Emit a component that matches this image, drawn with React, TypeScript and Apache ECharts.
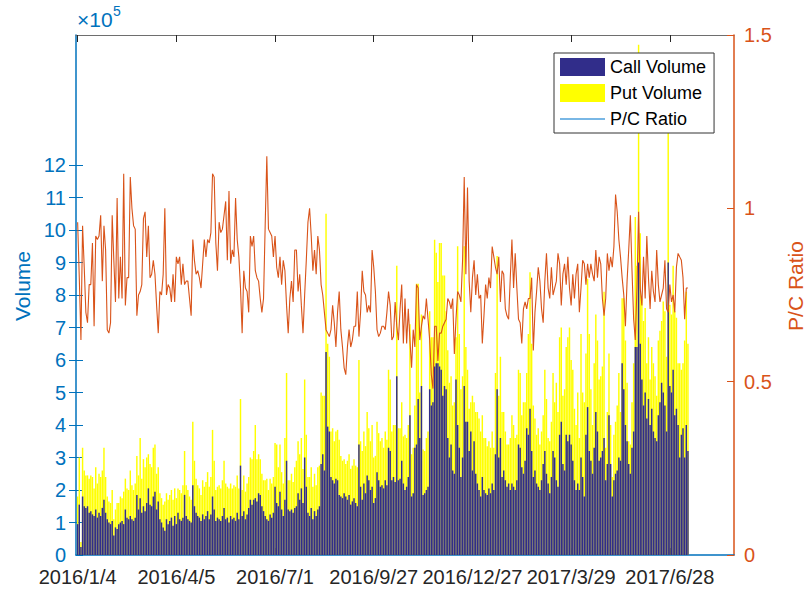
import React, { useEffect, useRef } from "react";
import * as echarts from "echarts";

// x tick positions (trading-day index) and their date labels
const tickIndex = [1, 61, 121, 181, 241, 301, 361];
const tickLabels = ["2016/1/4", "2016/4/5", "2016/7/1", "2016/9/27", "2016/12/27", "2017/3/29", "2017/6/28"];
const volumeTicks = [0, 1, 2, 3, 4, 5, 6, 7, 8, 9, 10, 11, 12];
const volumeMirrorTicks = [1, 2, 3, 4, 5, 6, 7, 8, 9, 10, 11, 12];

// daily call volume, in units of 10^5
const callVolume = [
  0.95, 1.55, 0.25, 1.80, 1.50, 1.45, 1.50, 1.30, 1.35, 1.25,
  1.20, 1.40, 1.15, 1.30, 1.20, 1.45, 1.70, 1.30, 1.10, 1.00,
  0.95, 1.05, 0.60, 0.85, 0.80, 0.95, 1.00, 1.05, 0.95, 1.40,
  1.15, 1.10, 1.20, 1.10, 1.05, 1.15, 1.85, 1.40, 1.75, 1.30,
  1.50, 1.35, 1.60, 2.05, 1.55, 1.50, 1.80, 1.95, 1.40, 1.65,
  1.10, 1.00, 0.85, 0.75, 1.10, 0.95, 1.05, 1.15, 0.90, 1.20,
  0.95, 1.30, 1.10, 1.05, 1.15, 1.85, 1.20, 1.10, 1.05, 1.00,
  2.15, 1.50, 1.30, 1.20, 1.15, 1.05, 1.25, 1.10, 1.20, 1.35,
  1.10, 1.25, 1.80, 1.40, 1.05, 1.15, 1.10, 1.05, 1.20, 1.45,
  1.10, 1.15, 1.00, 1.20, 1.10, 1.15, 1.05, 1.30, 1.10, 2.75,
  1.20, 1.35, 1.10, 1.25, 1.45, 1.70, 1.55, 1.70, 1.75, 1.65,
  1.90, 1.85, 1.50, 1.35, 1.20, 1.10, 1.05, 1.25, 1.15, 1.30,
  2.10, 1.60, 1.50, 1.95, 1.40, 1.20, 1.70, 2.90, 1.40, 1.35,
  1.40, 1.30, 1.45, 1.50, 1.90, 1.70, 2.05, 1.60, 3.00, 2.10,
  1.30, 1.20, 1.45, 1.10, 1.35, 1.20, 1.40, 1.50, 2.80, 3.10,
  2.60, 6.25, 3.95, 3.80, 2.40, 2.30, 2.20, 2.35, 2.30, 1.85,
  1.80, 1.75, 1.90, 1.80, 1.70, 1.85, 1.55, 1.65, 1.75, 1.60,
  1.50, 3.40, 2.10, 1.70, 2.20, 1.90, 2.45, 2.30, 2.00, 2.10,
  1.60, 1.75, 2.55, 2.30, 2.10, 2.15, 2.05, 2.30, 2.15, 3.30,
  3.20, 2.30, 2.40, 2.25, 5.50, 2.30, 2.35, 2.90, 2.20, 2.00,
  2.10, 2.40, 4.30, 1.80, 1.90, 3.30, 3.40, 4.80, 3.60, 5.20,
  1.85, 1.90, 2.00, 2.10, 5.10, 4.60, 4.70, 5.80, 5.90, 5.90,
  5.80, 5.70, 4.90, 5.20, 5.10, 3.60, 3.00, 3.40, 2.60, 2.50,
  5.40, 4.00, 3.30, 2.40, 3.00, 5.20, 4.10, 4.10, 3.20, 3.80,
  2.60, 3.50, 2.50, 2.20, 2.00, 1.80, 2.40, 2.00, 1.90, 1.85,
  2.05, 1.90, 2.20, 2.00, 3.10, 5.10, 3.00, 3.60, 2.40, 2.60,
  2.30, 2.10, 2.20, 2.00, 2.20, 2.10, 2.00, 2.30, 3.40, 3.30,
  2.70, 2.50, 2.90, 3.90, 3.70, 4.50, 3.20, 2.40, 2.60, 2.20,
  2.10, 2.00, 2.30, 2.80, 3.20, 2.50, 2.20, 1.90, 2.40, 3.20,
  3.00, 2.30, 2.10, 3.70, 4.10, 2.80, 2.60, 3.70, 3.50, 3.70,
  3.40, 2.90, 2.30, 2.00, 2.20, 2.00, 3.00, 2.40, 1.80, 3.70,
  4.55, 3.20, 2.90, 2.50, 3.30, 4.40, 3.80, 2.90, 3.00, 3.20,
  3.60, 2.30, 2.80, 4.30, 2.80, 1.80, 2.30, 2.50, 2.60, 3.00,
  2.90, 5.90, 5.10, 4.00, 3.50, 2.80, 2.50, 3.30, 3.80, 6.40,
  6.40, 9.00, 6.50, 5.40, 4.60, 5.00, 4.20, 4.80, 4.00, 4.50,
  3.80, 3.60, 3.50, 4.30, 4.70, 5.30, 5.00, 4.60, 3.80, 9.00,
  5.20, 5.00, 5.70, 4.30, 4.50, 4.00, 3.00, 3.70, 3.90, 3.00,
  4.00, 3.20,
];

// daily put volume, in units of 10^5 (stacked on top of the call volume)
const putVolume = [
  0.85, 1.45, 0.15, 1.50, 1.10, 1.00, 0.95, 1.05, 1.10, 1.15,
  0.85, 1.30, 1.05, 1.20, 1.20, 1.15, 1.60, 1.10, 0.70, 0.65,
  0.65, 0.95, 0.50, 0.55, 0.80, 0.65, 0.80, 0.70, 1.00, 0.95,
  0.90, 0.90, 1.40, 1.05, 0.95, 1.05, 1.20, 1.05, 1.85, 1.05,
  1.45, 1.35, 1.40, 1.05, 1.25, 1.20, 1.50, 1.45, 1.10, 1.05,
  0.80, 0.75, 0.70, 0.90, 0.80, 0.75, 0.80, 0.85, 0.80, 0.85,
  0.80, 0.75, 0.90, 0.85, 1.00, 1.35, 0.95, 0.90, 0.75, 0.70,
  1.95, 1.40, 1.05, 0.95, 0.90, 0.80, 1.05, 1.00, 1.05, 1.20,
  1.00, 1.15, 2.05, 1.50, 0.95, 0.95, 1.05, 1.00, 1.10, 1.45,
  1.10, 0.95, 1.05, 1.00, 0.95, 1.00, 1.05, 1.15, 0.95, 2.05,
  0.80, 1.10, 0.85, 0.95, 0.95, 1.30, 1.40, 1.50, 2.25, 1.30,
  1.20, 1.10, 1.00, 0.95, 1.10, 1.25, 0.95, 1.10, 1.05, 1.10,
  1.35, 1.80, 1.20, 1.45, 1.15, 1.00, 1.90, 2.70, 0.90, 0.95,
  1.10, 0.95, 1.25, 1.40, 1.60, 1.40, 1.55, 1.05, 2.40, 1.60,
  1.10, 1.20, 1.25, 1.00, 1.15, 0.95, 1.30, 1.25, 2.20, 1.80,
  2.30, 4.25, 2.55, 2.30, 1.40, 1.60, 1.30, 1.45, 1.55, 1.70,
  1.25, 1.15, 1.05, 1.00, 1.20, 1.25, 1.10, 1.10, 1.20, 1.15,
  1.20, 2.60, 1.40, 1.50, 1.60, 1.45, 1.95, 1.60, 1.50, 1.90,
  1.40, 1.30, 1.55, 1.45, 1.40, 1.45, 1.25, 1.50, 1.40, 2.40,
  2.20, 1.50, 1.60, 1.75, 3.40, 1.60, 1.55, 1.80, 1.45, 1.70,
  1.50, 1.60, 2.80, 1.30, 1.40, 1.30, 4.95, 3.55, 1.40, 2.20,
  1.40, 1.30, 1.60, 1.70, 2.40, 2.10, 2.00, 3.90, 3.40, 2.50,
  3.80, 3.90, 3.70, 3.40, 2.40, 2.70, 2.30, 2.10, 2.00, 2.20,
  1.30, 5.50, 3.50, 2.70, 2.50, 4.30, 2.30, 1.60, 1.30, 0.90,
  2.30, 1.20, 1.90, 2.20, 2.20, 2.00, 1.90, 1.60, 1.70, 1.50,
  1.45, 1.40, 1.60, 1.30, 2.50, 4.10, 1.90, 2.50, 2.00, 1.80,
  1.50, 1.30, 1.20, 1.60, 2.10, 1.90, 1.60, 1.40, 2.30, 2.30,
  1.60, 2.20, 1.80, 1.70, 3.10, 4.20, 3.30, 2.20, 1.60, 1.50,
  1.80, 1.40, 1.50, 1.50, 2.50, 2.30, 1.40, 1.60, 1.70, 2.40,
  1.70, 3.00, 2.30, 3.00, 2.90, 2.10, 2.50, 2.70, 3.20, 3.30,
  2.60, 2.80, 2.20, 2.00, 2.80, 1.60, 3.80, 2.60, 2.90, 2.50,
  3.95, 3.60, 2.20, 1.50, 2.60, 3.00, 2.80, 2.50, 2.50, 2.60,
  4.50, 1.00, 1.60, 1.90, 1.20, 0.60, 1.40, 1.60, 2.00, 2.60,
  1.50, 2.00, 2.80, 2.60, 1.80, 0.70, 0.90, 1.40, 2.10, 4.00,
  2.50, 6.70, 3.40, 2.50, 2.60, 2.60, 1.70, 1.90, 1.40, 1.90,
  2.10, 1.90, 1.40, 2.30, 2.20, 1.90, 2.80, 2.90, 2.30, 4.10,
  2.50, 2.40, 3.20, 3.20, 2.80, 1.90, 2.90, 2.00, 2.00, 3.60,
  4.10, 3.30,
];

// daily put/call ratio
const pcRatio = [
  0.96, 0.80, 0.62, 0.95, 0.83, 0.70, 0.67, 0.78, 0.78, 0.90,
  0.66, 0.92, 0.91, 0.92, 0.98, 0.79, 0.95, 0.88, 0.65, 0.64,
  0.67, 0.98, 0.85, 0.73, 1.03, 0.74, 0.86, 0.74, 1.10, 0.72,
  0.80, 0.80, 1.09, 1.00, 0.95, 0.94, 0.69, 0.75, 0.76, 0.78,
  0.97, 0.99, 0.86, 0.95, 0.80, 0.81, 0.85, 0.81, 0.72, 0.64,
  0.76, 0.75, 0.81, 1.00, 0.75, 0.78, 0.77, 0.73, 0.81, 0.73,
  0.86, 0.84, 0.86, 0.78, 0.84, 0.78, 0.79, 0.79, 0.74, 0.69,
  0.91, 0.85, 0.81, 0.82, 0.80, 0.77, 0.84, 0.91, 0.86, 0.91,
  0.90, 0.93, 1.10, 1.09, 0.90, 0.82, 0.96, 0.93, 0.94, 0.98,
  1.02, 0.85, 1.05, 0.84, 0.88, 0.86, 1.03, 0.91, 0.86, 0.77,
  0.64, 0.82, 0.77, 0.76, 0.70, 0.92, 0.89, 0.92, 0.82, 0.80,
  0.79, 0.74, 0.70, 0.74, 0.95, 1.15, 0.94, 0.93, 0.92, 0.86,
  0.92, 0.83, 0.80, 0.86, 0.78, 0.85, 0.82, 0.72, 0.64, 0.74,
  0.79, 0.73, 0.88, 0.88, 0.76, 0.81, 0.72, 0.64, 0.75, 0.85,
  0.96, 1.00, 0.92, 0.82, 0.88, 0.81, 0.92, 0.88, 0.78, 0.75,
  0.70, 0.65, 0.64, 0.63, 0.65, 0.72, 0.67, 0.60, 0.70, 0.76,
  0.65, 0.60, 0.54, 0.52, 0.60, 0.65, 0.60, 0.62, 0.66, 0.66,
  0.76, 0.63, 0.70, 0.82, 0.76, 0.75, 0.70, 0.72, 0.70, 0.88,
  0.83, 0.76, 0.65, 0.63, 0.64, 0.66, 0.66, 0.65, 0.70, 0.76,
  0.72, 0.62, 0.63, 0.73, 0.66, 0.62, 0.71, 0.78, 0.61, 0.74,
  0.61, 0.71, 0.62, 0.54, 0.65, 0.60, 0.78, 0.77, 0.62, 0.66,
  0.69, 0.68, 0.74, 0.68, 0.62, 0.52, 0.48, 0.66, 0.66, 0.56,
  0.64, 0.64, 0.66, 0.67, 0.68, 0.74, 0.73, 0.71, 0.74, 0.58,
  0.68, 0.76, 0.75, 0.73, 0.85, 1.09, 0.81, 1.06, 0.79, 0.70,
  0.80, 0.85, 0.75, 0.81, 0.74, 0.75, 0.61, 0.69, 0.78, 0.74,
  0.80, 0.77, 0.89, 0.86, 0.83, 0.81, 0.86, 0.73, 0.82, 0.81,
  0.71, 0.69, 0.68, 0.80, 0.91, 0.77, 0.87, 0.77, 0.68, 0.67,
  0.61, 0.71, 0.73, 0.71, 0.74, 0.74, 0.80, 0.59, 0.70, 0.76,
  0.83, 0.79, 0.71, 0.67, 0.79, 0.87, 0.77, 0.74, 0.83, 0.75,
  0.77, 0.79, 0.87, 0.84, 0.72, 0.81, 0.84, 0.78, 0.86, 0.77,
  0.72, 0.81, 0.74, 0.81, 0.84, 0.70, 0.77, 0.85, 0.84, 0.78,
  0.84, 0.80, 0.84, 0.81, 0.79, 0.88, 0.80, 0.86, 0.84, 0.74,
  0.69, 0.74, 0.87, 0.82, 0.86, 0.83, 0.89, 1.04, 0.99, 0.91,
  0.86, 0.80, 0.75, 0.66, 0.79, 0.88, 0.98, 0.82, 0.68, 0.62,
  0.77, 0.99, 0.77, 0.72, 0.86, 0.74, 0.92, 0.80, 0.71, 0.82,
  0.76, 0.73, 0.88, 0.78, 0.73, 0.75, 0.77, 0.85, 0.71, 0.70,
  0.78, 0.73, 0.75, 0.70, 0.83, 0.87, 0.86, 0.85, 0.80, 0.68,
  0.77, 0.77,
];

const FONT = "'Liberation Sans', Arial, Helvetica, sans-serif";
const BLUE = "#0072BD";
const ORANGE = "#D95319";
const NAVY = "#312d8a";
const DARK = "#262626";

export default function App() {
  const ref = useRef<HTMLDivElement>(null);

  useEffect(() => {
    if (!ref.current) return;
    const chart = echarts.init(ref.current, null, { renderer: "svg" });

    // put bars are stacked on top of the call bars: draw the stack top first, call on top of it
    const callData = callVolume.map((v, i) => [i + 1, v]);
    const putStackData = putVolume.map((v, i) => [i + 1, +(callVolume[i] + v).toFixed(2)]);
    const ratioData = pcRatio.map((v, i) => [i + 1, v]);

    const option: any = {
      animation: false,
      backgroundColor: "#ffffff",
      textStyle: { fontFamily: FONT },
      grid: {
        left: 76,
        right: 72,
        top: 35,
        bottom: 34,
        containLabel: false,
        outerBoundsMode: "none",
      },
      legend: {
        orient: "vertical",
        left: 554,
        top: 53,
        padding: [5, 8, 5, 6],
        itemWidth: 45,
        itemHeight: 18,
        itemGap: 8,
        selectedMode: false,
        backgroundColor: "#ffffff",
        borderColor: "#333333",
        borderWidth: 1,
        borderRadius: 0,
        textStyle: { fontFamily: FONT, fontSize: 18, color: "#000000" },
        data: [
          { name: "Call Volume", icon: "rect" },
          { name: "Put Volume", icon: "rect" },
          {
            name: "P/C Ratio",
            icon: "path://M0,0 L100,0 L100,3 L0,3 Z",
            itemStyle: { color: "#4d9fdc", borderWidth: 0 },
          },
        ],
      },
      xAxis: [
        {
          type: "value",
          position: "bottom",
          min: 0,
          max: 400,
          axisLine: { show: true, onZero: false, lineStyle: { color: BLUE, width: 1.5 } },
          axisTick: {
            show: true,
            inside: true,
            length: 7,
            customValues: tickIndex,
            lineStyle: { color: DARK },
          },
          axisLabel: {
            show: true,
            customValues: tickIndex,
            margin: 12,
            fontSize: 20,
            fontFamily: FONT,
            color: DARK,
            formatter: (v: number) => {
              const k = tickIndex.indexOf(v);
              return k >= 0 ? tickLabels[k] : "";
            },
          },
          splitLine: { show: false },
        },
        {
          type: "value",
          position: "top",
          min: 0,
          max: 400,
          axisLine: { show: true, onZero: false, lineStyle: { color: "#6e6e6e", width: 1 } },
          axisTick: {
            show: true,
            inside: true,
            length: 7,
            customValues: tickIndex,
            lineStyle: { color: DARK },
          },
          axisLabel: { show: false },
          splitLine: { show: false },
        },
      ],
      yAxis: [
        {
          type: "value",
          position: "left",
          min: 0,
          max: 16,
          name: "Volume",
          nameLocation: "middle",
          nameGap: 43,
          nameRotate: 90,
          nameTextStyle: { fontSize: 21, color: BLUE, fontFamily: FONT, padding: [0, 0, 0, 18] },
          axisLine: { show: true, onZero: false, lineStyle: { color: BLUE, width: 1.5 } },
          axisTick: {
            show: true,
            inside: true,
            length: 7,
            customValues: volumeTicks,
            lineStyle: { color: BLUE },
          },
          axisLabel: {
            show: true,
            customValues: volumeTicks,
            margin: 10,
            fontSize: 20,
            fontFamily: FONT,
            color: BLUE,
          },
          splitLine: { show: false },
        },
        {
          type: "value",
          position: "right",
          min: 0,
          max: 1.5,
          interval: 0.5,
          name: "P/C Ratio",
          nameLocation: "middle",
          nameGap: 51,
          nameRotate: 90,
          nameTextStyle: { fontSize: 21, color: ORANGE, fontFamily: FONT, padding: [0, 0, 0, 18] },
          axisLine: { show: true, onZero: false, lineStyle: { color: ORANGE, width: 1.5 } },
          axisTick: { show: true, inside: true, length: 7, lineStyle: { color: ORANGE } },
          axisLabel: {
            show: true,
            margin: 10,
            fontSize: 20,
            fontFamily: FONT,
            color: ORANGE,
            formatter: (v: number) => String(v),
          },
          splitLine: { show: false },
        },
        {
          type: "value",
          position: "right",
          min: 0,
          max: 16,
          axisLine: { show: false },
          axisTick: {
            show: true,
            inside: true,
            length: 7,
            customValues: volumeMirrorTicks,
            lineStyle: { color: BLUE },
          },
          axisLabel: { show: false },
          splitLine: { show: false },
        },
      ],
      graphic: [
        {
          type: "text",
          left: 77,
          top: 9,
          style: { text: "×10", fontSize: 21, fontFamily: FONT, fill: BLUE },
        },
        {
          type: "text",
          left: 113,
          top: 4,
          style: { text: "5", fontSize: 14, fontFamily: FONT, fill: BLUE },
        },
      ],
      series: [
        {
          name: "Put Volume",
          type: "bar",
          xAxisIndex: 0,
          yAxisIndex: 0,
          barWidth: 1.45,
          barGap: "-100%",
          itemStyle: { color: "#FFFF00" },
          data: putStackData,
          z: 2,
        },
        {
          name: "Call Volume",
          type: "bar",
          xAxisIndex: 0,
          yAxisIndex: 0,
          barWidth: 1.45,
          barGap: "-100%",
          itemStyle: { color: NAVY },
          data: callData,
          z: 3,
        },
        {
          name: "P/C Ratio",
          type: "line",
          xAxisIndex: 0,
          yAxisIndex: 1,
          symbol: "none",
          showSymbol: false,
          lineStyle: { color: ORANGE, width: 1.1 },
          itemStyle: { color: ORANGE },
          data: ratioData,
          z: 4,
        },
      ],
    };

    chart.setOption(option);
    return () => chart.dispose();
  }, []);

  return (
    <div
      ref={ref}
      style={{ position: "absolute", left: 0, top: 0, width: 806, height: 589 }}
    />
  );
}
